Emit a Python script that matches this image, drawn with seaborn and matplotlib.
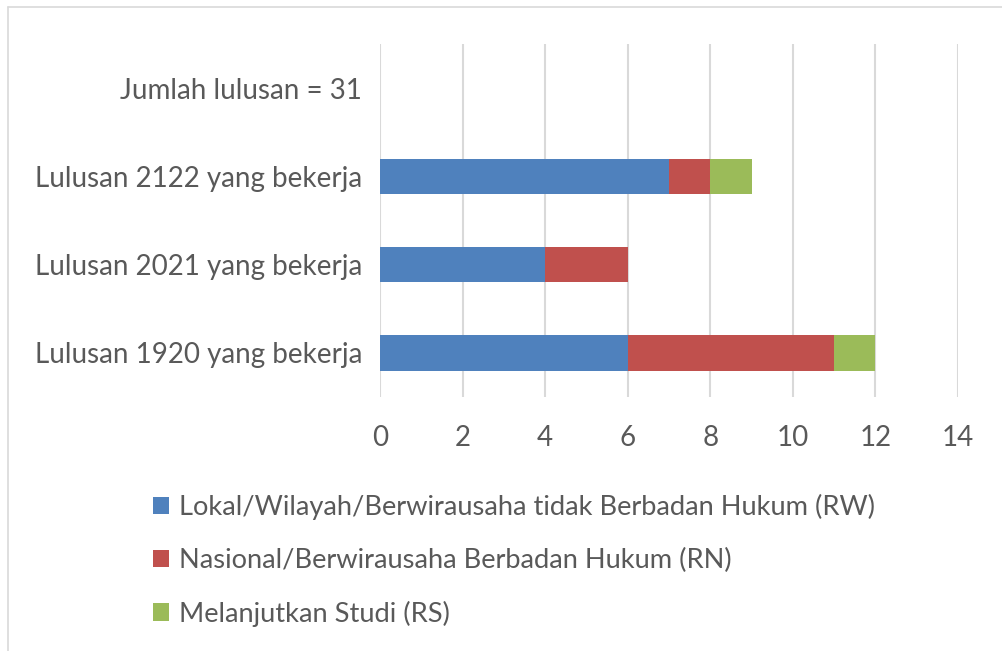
import matplotlib
matplotlib.use("Agg")
import matplotlib.pyplot as plt
from matplotlib.patches import Patch
from matplotlib.lines import Line2D
import seaborn as sns
import pandas as pd
import numpy as np

categories = ["Jumlah lulusan = 31", "Lulusan 2122 yang bekerja",
              "Lulusan 2021 yang bekerja", "Lulusan 1920 yang bekerja"]
rw = [0, 7, 4, 6]
rn = [0, 1, 2, 5]
rs = [0, 1, 0, 1]
series_names = ["Lokal/Wilayah/Berwirausaha tidak Berbadan Hukum (RW)",
                "Nasional/Berwirausaha Berbadan Hukum (RN)",
                "Melanjutkan Studi (RS)"]
colors = ["#4f81bd", "#c0504d", "#9bbb59"]
xticks = [0, 2, 4, 6, 8, 10, 12, 14]

sns.set_theme(style="white")
plt.rcParams["font.family"] = ["Lato", "DejaVu Sans"]
text_color = "#595959"

df = pd.DataFrame({"cat": categories, "RW": rw, "RN": rn, "RS": rs})
df["c1"] = df["RW"]
df["c2"] = df["RW"] + df["RN"]
df["c3"] = df["c2"] + df["RS"]

fig = plt.figure(figsize=(10.02, 6.51), dpi=100)
ax = fig.add_axes([380/1002, 1-397/651, (958-380)/1002, (397-44)/651])

for col, color in zip(["c3", "c2", "c1"], colors[::-1]):
    sns.barplot(data=df, x=col, y="cat", order=categories, color=color,
                orient="h", width=0.4, saturation=1, ax=ax, linewidth=0, zorder=3)

ax.set_xlim(0, 14)
ax.set_xticks(xticks)
ax.set_xticklabels([str(t) for t in xticks])
ax.set_xlabel("")
ax.set_ylabel("")
for s in ax.spines.values():
    s.set_visible(False)
ax.grid(axis="x", color="#d9d9d9", linewidth=1.5, zorder=0)
ax.grid(axis="y", visible=False)
ax.set_axisbelow(True)
ax.tick_params(axis="x", length=0, pad=20, labelsize=20, labelcolor=text_color)
ax.tick_params(axis="y", length=0, pad=13, labelsize=20, labelcolor=text_color)

handles = [Patch(facecolor=c, edgecolor="none") for c in colors]
fig.legend(handles, series_names, loc="upper left",
           bbox_to_anchor=(142/1002, 1-483/651), frameon=False,
           fontsize=19.6, labelcolor=text_color, handlelength=0.6,
           handleheight=0.6, handletextpad=0.35, labelspacing=1.02,
           borderaxespad=0)

# outer chart border (top and left visible)
fig.add_artist(Line2D([8/1002, 1], [1-7/651, 1-7/651], color="#d9d9d9", lw=1.2, transform=fig.transFigure))
fig.add_artist(Line2D([8/1002, 8/1002], [0, 1-7/651], color="#d9d9d9", lw=1.2, transform=fig.transFigure))

fig.savefig("out.png", dpi=100, facecolor="white")
